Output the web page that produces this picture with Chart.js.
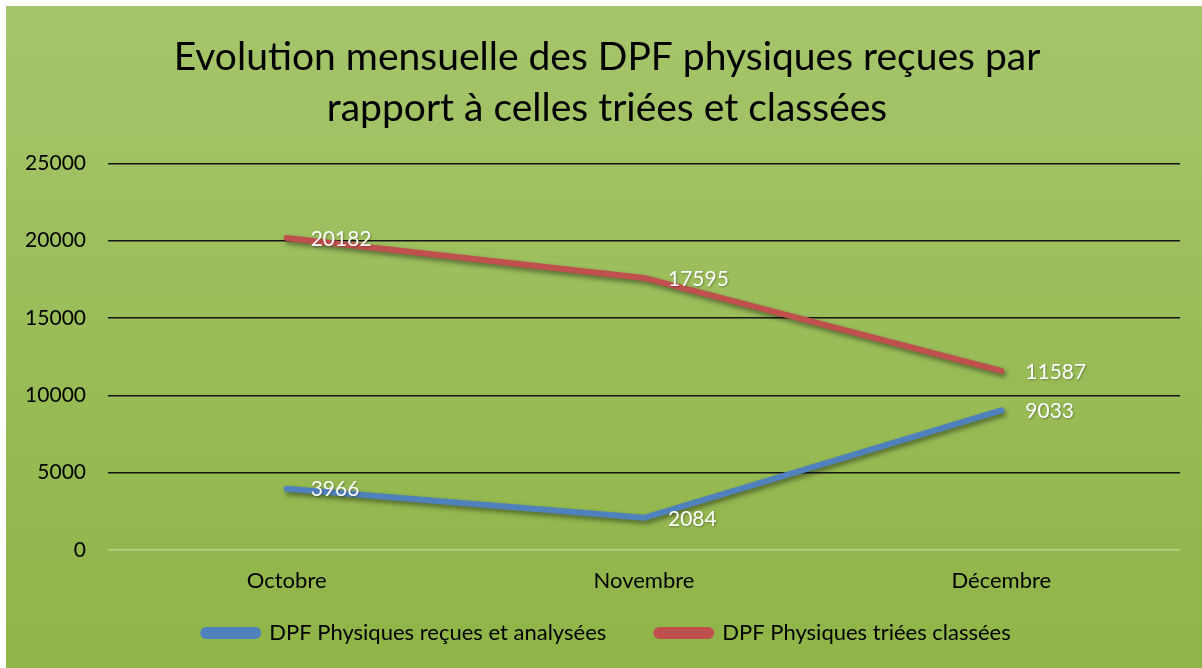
<!DOCTYPE html>
<html>
<head>
<meta charset="utf-8">
<script src="https://cdn.jsdelivr.net/npm/chart.js@4.4.1/dist/chart.umd.min.js"></script>
<style>
    html, body { margin: 0; padding: 0; background: #fff; }
    #wrap {
        position: absolute;
        left: 6px;
        top: 6px;
        width: 1196px;
        height: 662px;
        background: linear-gradient(to bottom, #a6c56b, #8fb447);
    }
</style>
</head>
<body>
<div id="wrap"><canvas id="chart"></canvas></div>
<script>
const months = ['Octobre', 'Novembre', 'Décembre'];
const recuesAnalysees = [3966, 2084, 9033];
const trieesClassees = [20182, 17595, 11587];
const yTicks = [0, 5000, 10000, 15000, 20000, 25000];

const FONT = 'Lato';

// drop shadow under the lines, like the office chart
const shadowPlugin = {
    id: 'lineShadow',
    beforeDatasetsDraw(chart) {
        const ctx = chart.ctx;
        ctx.save();
        ctx.shadowColor = 'rgba(0, 0, 0, 0.45)';
        ctx.shadowBlur = 5;
        ctx.shadowOffsetX = 2;
        ctx.shadowOffsetY = 3;
    },
    afterDatasetsDraw(chart) {
        chart.ctx.restore();
    }
};

// white value labels to the right of each point
const valueLabels = {
    id: 'valueLabels',
    afterDatasetsDraw(chart) {
        const ctx = chart.ctx;
        ctx.save();
        ctx.font = `21px ${FONT}`;
        ctx.fillStyle = '#fff';
        ctx.textAlign = 'left';
        ctx.textBaseline = 'middle';
        ctx.shadowColor = 'rgba(0, 0, 0, 0.3)';
        ctx.shadowBlur = 2;
        ctx.shadowOffsetX = 1;
        ctx.shadowOffsetY = 1;
        chart.data.datasets.forEach((ds, i) => {
            chart.getDatasetMeta(i).data.forEach((pt, j) => {
                ctx.fillText(String(ds.data[j]), pt.x + 24, pt.y + 1);
            });
        });
        ctx.restore();
    }
};

const ctx = document.getElementById('chart').getContext('2d');
new Chart(ctx, {
    type: 'line',
    data: {
        labels: months,
        datasets: [
            {
                label: 'DPF Physiques reçues et analysées',
                data: recuesAnalysees,
                borderColor: '#4f81bd',
                backgroundColor: '#4f81bd',
                borderWidth: 6,
                borderCapStyle: 'round',
                borderJoinStyle: 'round',
                pointRadius: 0,
                tension: 0
            },
            {
                label: 'DPF Physiques triées classées',
                data: trieesClassees,
                borderColor: '#c0504d',
                backgroundColor: '#c0504d',
                borderWidth: 6,
                borderCapStyle: 'round',
                borderJoinStyle: 'round',
                pointRadius: 0,
                tension: 0
            }
        ]
    },
    options: {
        responsive: true,
        maintainAspectRatio: false,
        animation: false,
        layout: { padding: { left: 6, right: 0, top: 0, bottom: 14 } },
        plugins: {
            title: {
                display: true,
                text: ['Evolution mensuelle des DPF physiques reçues par', 'rapport à celles triées et classées'],
                color: '#000',
                font: { family: FONT, size: 39, weight: 'normal', lineHeight: 1.3 },
                padding: { top: 26, bottom: 30 }
            },
            legend: {
                position: 'bottom',
                labels: {
                    color: '#000',
                    font: { family: FONT, size: 22 },
                    boxWidth: 55,
                    boxHeight: 6,
                    useBorderRadius: true,
                    borderRadius: 3,
                    padding: 50
                }
            },
            tooltip: { enabled: false }
        },
        scales: {
            x: {
                offset: true,
                grid: { display: false },
                border: { display: false },
                ticks: { color: '#000', font: { family: FONT, size: 22 }, padding: 10 },
                afterFit(scale) {
                    scale.height = 22;
                    // labels hang below the short axis box, so don't clip them
                    scale._computeLabelArea = () => undefined;
                }
            },
            y: {
                min: 0,
                max: 25000,
                afterBuildTicks(scale) { scale.ticks = yTicks.map(v => ({ value: v })); },
                grid: {
                    drawTicks: false,
                    lineWidth: 1.5,
                    color: c => (c.tick && c.tick.value === 0) ? 'rgba(200, 220, 160, 0.7)' : '#151515'
                },
                border: { display: false },
                ticks: {
                    color: '#000',
                    font: { family: FONT, size: 21 },
                    padding: 22,
                    callback: v => String(v)
                },
                afterFit(scale) { scale.width = 96; }
            },
            // empty right margin so the title and legend stay centred on the page
            spacer: {
                position: 'right',
                grid: { display: false },
                border: { display: false },
                ticks: { display: false },
                afterFit(scale) { scale.width = 22; }
            }
        }
    },
    plugins: [shadowPlugin, valueLabels]
});
</script>
</body>
</html>
